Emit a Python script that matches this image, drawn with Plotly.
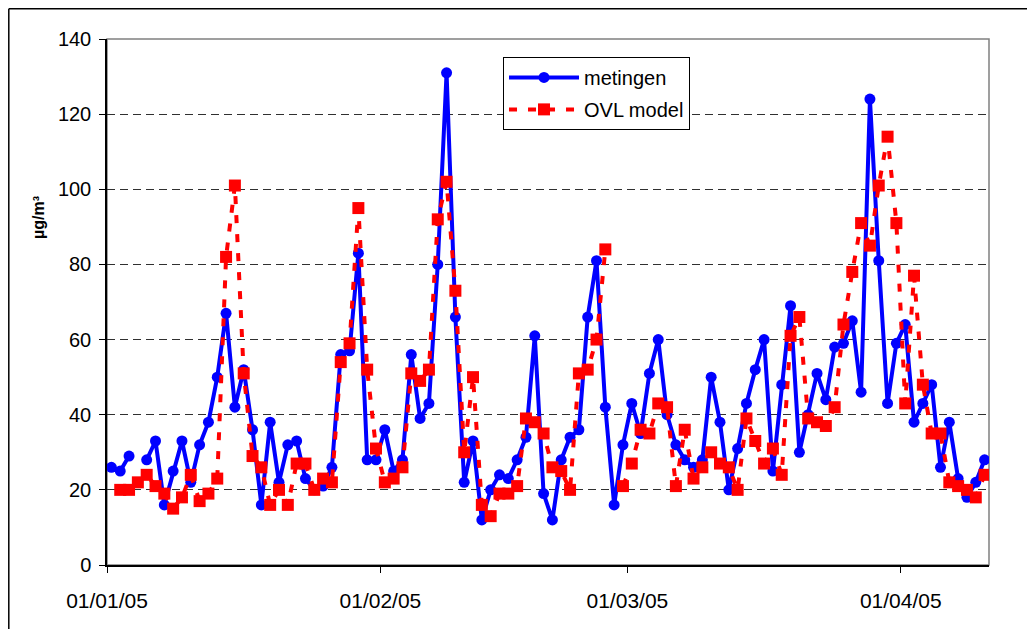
import plotly.graph_objects as go
import pandas as pd

# Daily dates, 1 Jan 2005 .. 10 Apr 2005 (points centred on each day)
dates = pd.date_range("2005-01-01 12:00", periods=100, freq="D")

metingen = [
    26, 25, 29, None, 28, 33, 16, 25, 33, 22,
    32, 38, 50, 67, 42, 52, 36, 16, 38, 22,
    32, 33, 23, 20, 21, 26, 56, 57, 83, 28,
    28, 36, 25, 28, 56, 39, 43, 80, 131, 66,
    22, 33, 12, 20, 24, 23, 28, 34, 61, 19,
    12, 28, 34, 36, 66, 81, 42, 16, 32, 43,
    35, 51, 60, 40, 32, 28, 26, 28, 50, 38,
    20, 31, 43, 52, 60, 25, 48, 69, 30, 40,
    51, 44, 58, 59, 65, 46, 124, 81, 43, 59,
    64, 38, 43, 48, 26, 38, 23, 18, 22, 28,
]

ovl_model = [
    None, 20, 20, 22, 24, 21, 19, 15, 18, 24,
    17, 19, 23, 82, 101, 51, 29, 26, 16, 20,
    16, 27, 27, 20, 23, 22, 54, 59, 95, 52,
    31, 22, 23, 26, 51, 49, 52, 92, 102, 73,
    30, 50, 16, 13, 19, 19, 21, 39, 38, 35,
    26, 25, 20, 51, 52, 60, 84, None, 21, 27,
    36, 35, 43, 42, 21, 36, 23, 26, 30, 27,
    26, 20, 39, 33, 27, 31, 24, 61, 66, 39,
    38, 37, 42, 64, 78, 91, 85, 101, 114, 91,
    43, 77, 48, 35, 35, 22, 21, 20, 18, 24,
]

tick_dates = ["2005-01-01", "2005-02-01", "2005-03-01", "2005-04-01"]
tick_labels = ["01/01/05", "01/02/05", "01/03/05", "01/04/05"]
y_ticks = [0, 20, 40, 60, 80, 100, 120, 140]

FONT = "Liberation Sans, Arial, sans-serif"

# figure is placed 8px in from the page corner (body margin)
W, H = 1027, 621
ML, MT, PW, PH = 99, 31, 882, 526
MR = W - ML - PW
MB = H - MT - PH

def px_x(px):
    return (px - ML) / PW

def px_y(py):
    return (MT + PH - py) / PH

fig = go.Figure()
fig.add_trace(go.Scatter(
    x=dates, y=metingen, name="metingen", mode="lines+markers",
    legendgroup="a",
    line=dict(color="#0000FF", width=4),
    marker=dict(symbol="circle", size=11, color="#0000FF"),
    connectgaps=False,
))
fig.add_trace(go.Scatter(
    x=dates, y=ovl_model, name="OVL model", mode="lines+markers",
    legendgroup="b",
    line=dict(color="#FF0000", width=4, dash="8px,11px"),
    marker=dict(symbol="square", size=12, color="#FF0000"),
    connectgaps=False,
))

# plot-area border (grey top/right)
fig.add_shape(type="rect", xref="paper", yref="paper", x0=0, y0=0, x1=1, y1=1,
              line=dict(color="#808080", width=1.5), layer="below")
# outer chart frame (left and top edges visible)
fig.add_shape(type="line", xref="paper", yref="paper",
              x0=px_x(0.8), y0=px_y(0.8), x1=px_x(0.8), y1=px_y(H + 10),
              line=dict(color="black", width=1.5))
fig.add_shape(type="line", xref="paper", yref="paper",
              x0=px_x(0.8), y0=px_y(0.8), x1=px_x(W + 10), y1=px_y(0.8),
              line=dict(color="black", width=1.5))

fig.add_annotation(
    text="<b>µg/m³</b>", xref="paper", yref="paper",
    x=px_x(39 - 8), y=px_y(218 - 8), xanchor="center", yanchor="middle",
    textangle=-90, showarrow=False,
    font=dict(family=FONT, size=16, color="black"),
)

fig.update_layout(
    width=W, height=H,
    margin=dict(l=ML, r=MR, t=MT, b=MB),
    paper_bgcolor="white", plot_bgcolor="white",
    font=dict(family=FONT, size=20, color="black"),
    showlegend=True,
    legend=dict(
        x=0.449, y=0.966, xanchor="left", yanchor="top",
        bgcolor="white", bordercolor="black", borderwidth=1,
        font=dict(family=FONT, size=20, color="black"),
        itemwidth=70, tracegroupgap=3,
    ),
    xaxis=dict(
        type="date",
        range=["2005-01-01", "2005-04-11"],
        tickvals=tick_dates, ticktext=tick_labels,
        showgrid=False, zeroline=False,
        showline=True, linecolor="black", linewidth=1.5,
        ticks="outside", ticklen=6, tickcolor="black", tickwidth=1,
        ticklabelstandoff=10,
        tickfont=dict(family=FONT, size=21, color="black"),
    ),
    yaxis=dict(
        range=[0, 140], tickvals=y_ticks,
        showgrid=True, gridcolor="#303030", gridwidth=1, griddash="8px,5px",
        zeroline=False,
        showline=True, linecolor="black", linewidth=1.5,
        ticks="outside", ticklen=6, tickcolor="black", tickwidth=1,
        ticklabelstandoff=4,
        tickfont=dict(family=FONT, size=20, color="black"),
    ),
)

fig.write_html("out.html")
